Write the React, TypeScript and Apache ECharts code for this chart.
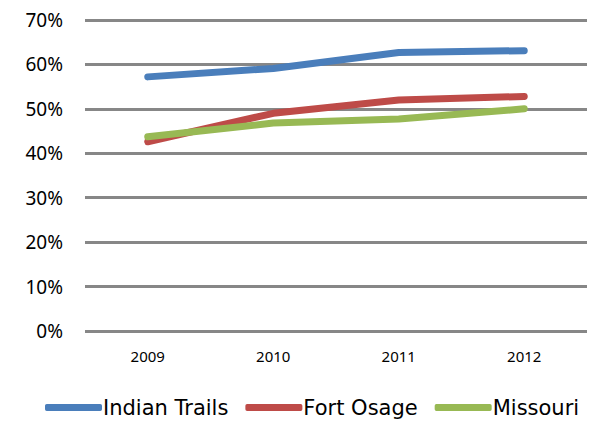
import React, { useEffect, useRef } from "react";
import * as echarts from "echarts";

const categories = ["2009", "2010", "2011", "2012"];
const indianTrails = [57.2, 59.1, 62.7, 63.1];
const fortOsage = [42.6, 49.0, 52.0, 52.8];
const missouri = [43.7, 46.8, 47.7, 50.0];
const seriesNames = ["Indian Trails", "Fort Osage", "Missouri"];
const colors = ["#4a7ebb", "#be4b48", "#98b954"];

export default function App() {
  const ref = useRef<HTMLDivElement>(null);
  useEffect(() => {
    const chart = echarts.init(ref.current!, null, { renderer: "svg" });
    const font = "'Noto Sans', sans-serif";
    const data = [indianTrails, fortOsage, missouri];
    chart.setOption({
      animation: false,
      color: colors,
      grid: { left: 85, right: 2, top: 20, bottom: 96, containLabel: false },
      legend: {
        bottom: 4,
        left: 40,
        icon: "roundRect",
        itemWidth: 57,
        itemHeight: 7,
        itemGap: 17,
        textStyle: { fontFamily: "'DejaVu Sans', sans-serif", fontSize: 21, color: "#000", padding: [0, 0, 0, -4] },
        data: seriesNames,
      },
      xAxis: {
        type: "category",
        data: categories,
        boundaryGap: true,
        axisLine: { show: false },
        axisTick: { show: false },
        axisLabel: { fontFamily: font, fontSize: 15, color: "#000", margin: 17 },
      },
      yAxis: {
        type: "value",
        min: 0,
        max: 70,
        interval: 10,
        axisLine: { show: false },
        axisTick: { show: false },
        axisLabel: {
          fontFamily: font,
          fontSize: 19,
          color: "#000",
          margin: 22,
          formatter: (v: number) => v + "%",
        },
        splitLine: { lineStyle: { color: "#878787", width: 3 } },
      },
      series: seriesNames.map((name, i) => ({
        name,
        type: "line",
        data: data[i],
        symbol: "none",
        lineStyle: { width: 7, color: colors[i], cap: "round", join: "round" },
        itemStyle: { color: colors[i] },
      })),
    });
    return () => chart.dispose();
  }, []);
  return (
    <div
      ref={ref}
      style={{ position: "fixed", left: 0, top: 0, width: 589, height: 427, background: "#fff" }}
    />
  );
}
